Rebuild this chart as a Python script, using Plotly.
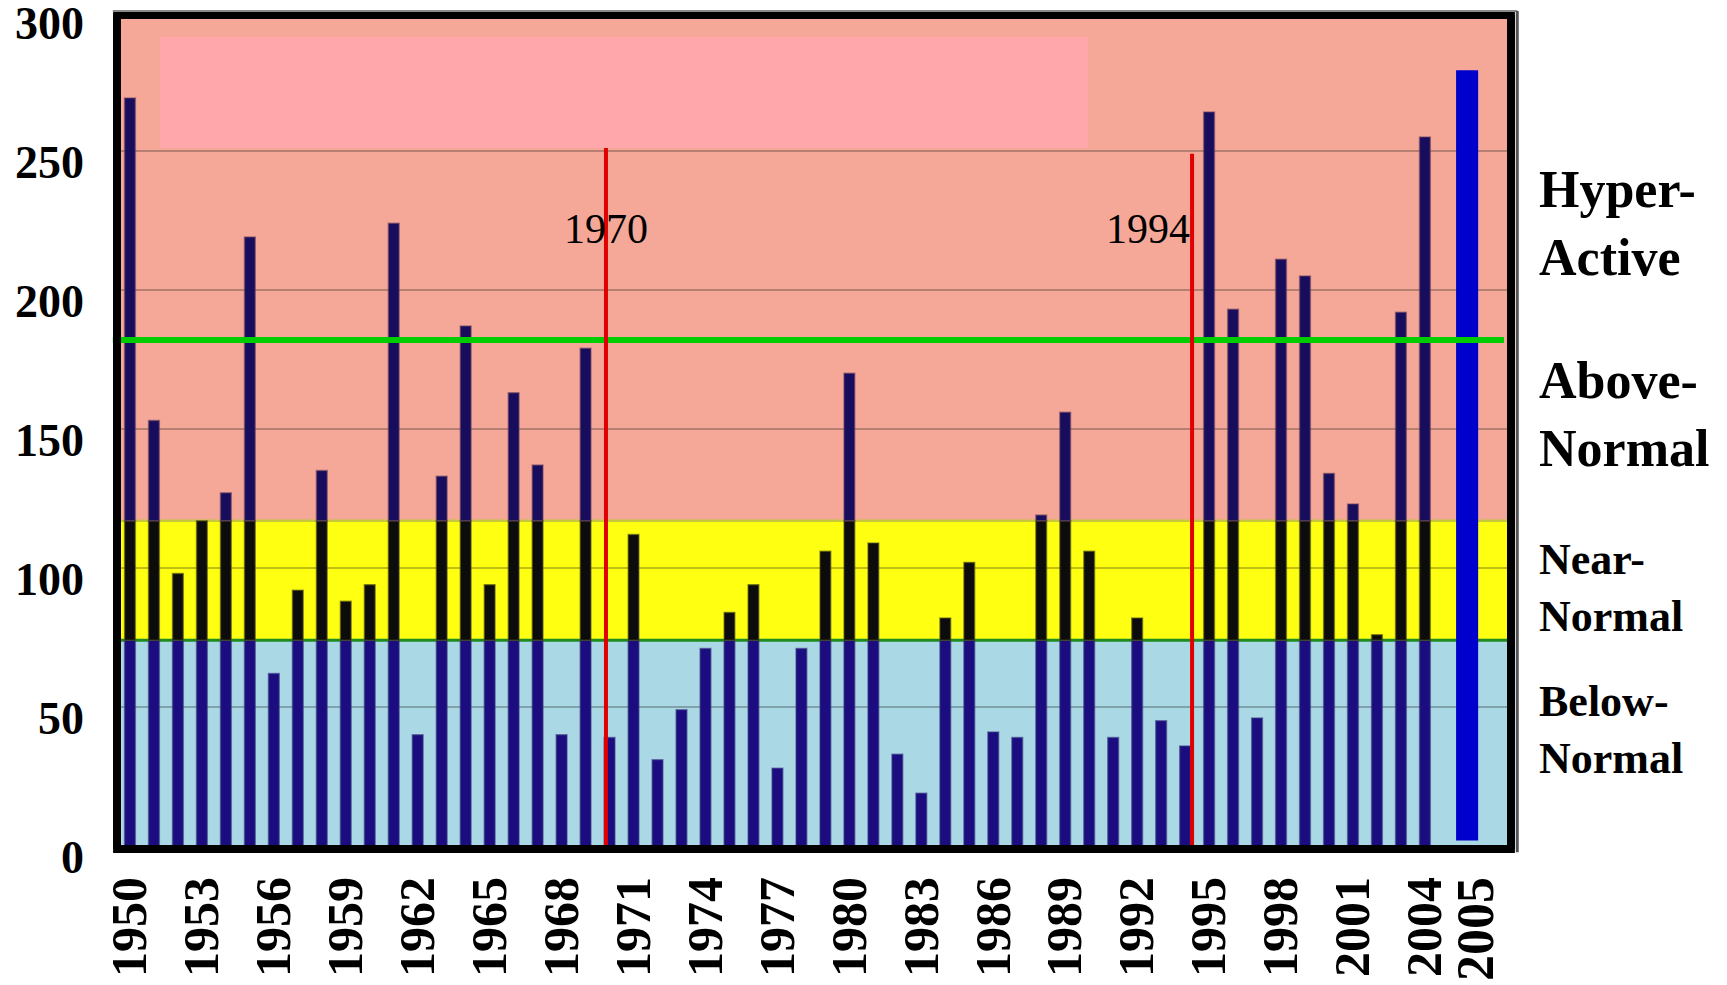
import numpy as np
import plotly.graph_objects as go

# ---------------- data ----------------
years = list(range(1950, 2005))
ace_pct = [269, 153, 98, 117, 127, 219, 62, 92, 135, 88,
           94, 224, 40, 133, 187, 94, 163, 137, 40, 179,
           39, 112, 31, 49, 71, 84, 94, 28, 71, 106,
           170, 109, 33, 19, 82, 102, 41, 39, 119, 156,
           106, 39, 82, 45, 36, 264, 193, 46, 211, 205,
           134, 123, 76, 192, 255]
year_2005 = 2005
ace_2005 = 279
base_2005 = 2

near_normal_low = 74
near_normal_high = 117
hyperactive = 182

era_years = [1970, 1994]
era_labels = ["1970", "1994"]
era_line_tops = [251, 249]

label_years = [1950, 1953, 1956, 1959, 1962, 1965, 1968, 1971, 1974, 1977,
               1980, 1983, 1986, 1989, 1992, 1995, 1998, 2001, 2004]
y_ticks = [0, 50, 100, 150, 200, 250, 300]
category_labels = ["Hyper-<br>Active", "Above-<br>Normal", "Near-<br>Normal", "Below-<br>Normal"]

# ---------------- style constants ----------------
FONT = "Liberation Serif"
BAR_W = 0.45
HL_W = 0.92
HL_SHIFT = 0.76          # 2005 bar drawn slightly right of its slot
HL_LABEL_SHIFT = 0.4
ERA_SHIFT = [-0.15, 0.29]
SALMON = "#F5A898"
YELLOW = "#FFFF12"
LIGHTBLUE = "#ABD8E5"
PINK = "#FFA7AA"

v = np.array(ace_pct, dtype=float)
seg_low = np.minimum(v, near_normal_low)
seg_mid = np.clip(v, near_normal_low, near_normal_high) - near_normal_low
seg_high = np.maximum(v, near_normal_high) - near_normal_high


def nz(a):
    return [x if x > 0 else None for x in a]


fig = go.Figure()
fig.add_bar(x=years, y=nz(seg_low), base=0, width=BAR_W,
            marker=dict(color="#1B0D80", line=dict(width=1.5, color="rgba(60,60,130,0.55)")),
            hoverinfo="skip", showlegend=False)
fig.add_bar(x=years, y=nz(seg_mid), base=near_normal_low, width=BAR_W,
            marker=dict(color="#0C0C0C", line=dict(width=1.5, color="rgba(90,90,20,0.55)")),
            hoverinfo="skip", showlegend=False)
fig.add_bar(x=years, y=nz(seg_high), base=near_normal_high, width=BAR_W,
            marker=dict(color="#170D5C", line=dict(width=1.5, color="rgba(110,70,100,0.55)")),
            hoverinfo="skip", showlegend=False)
fig.add_bar(x=[year_2005], y=[ace_2005 - base_2005], base=[base_2005], width=HL_W,
            offset=HL_SHIFT - HL_W / 2,
            marker=dict(color="#0000CC", line=dict(width=0)),
            hoverinfo="skip", showlegend=False)

shapes = []
# background bands (below grid)
shapes.append(dict(type="rect", xref="paper", x0=0, x1=1, yref="y", y0=near_normal_high, y1=320,
                   fillcolor=SALMON, line=dict(width=0), layer="below"))
shapes.append(dict(type="rect", xref="paper", x0=0, x1=1, yref="y", y0=near_normal_low, y1=near_normal_high,
                   fillcolor=YELLOW, line=dict(width=0), layer="below"))
shapes.append(dict(type="rect", xref="paper", x0=0, x1=1, yref="y", y0=-10, y1=near_normal_low,
                   fillcolor=LIGHTBLUE, line=dict(width=0), layer="below"))
shapes.append(dict(type="rect", xref="x", x0=1951.25, x1=1989.95, yref="y", y0=251, y1=291,
                   fillcolor=PINK, line=dict(width=0), layer="below"))
shapes.append(dict(type="line", xref="paper", x0=0, x1=1, yref="y", y0=near_normal_high, y1=near_normal_high,
                   line=dict(color="#C8C83C", width=2.5), layer="below"))
shapes.append(dict(type="line", xref="paper", x0=0, x1=1, yref="y", y0=near_normal_low, y1=near_normal_low,
                   line=dict(color="#1E8C1E", width=3), layer="below"))
# hyperactive threshold
shapes.append(dict(type="line", xref="paper", x0=-0.003, x1=0.995, yref="y", y0=hyperactive, y1=hyperactive,
                   line=dict(color="#00CC00", width=6), layer="above"))
# era lines
for yr, sh, top in zip(era_years, ERA_SHIFT, era_line_tops):
    shapes.append(dict(type="line", xref="x", x0=yr + sh, x1=yr + sh, yref="y", y0=0, y1=top,
                       line=dict(color="#E00000", width=4), layer="above"))
# frame (top edge sits slightly inside the 300 line, as in the original)
FR_TOP = 0.9952
for x0, x1, y0, y1 in [(0, 0, 0, FR_TOP), (1, 1, 0, FR_TOP), (-0.0028, 1.0028, 0, 0), (-0.0028, 1.0028, FR_TOP, FR_TOP)]:
    shapes.append(dict(type="line", xref="paper", yref="paper", x0=x0, x1=x1, y0=y0, y1=y1,
                       line=dict(color="black", width=8), layer="above"))
# faint grey outer edges
shapes.append(dict(type="line", xref="paper", yref="paper", x0=-0.003, x1=1.0045, y0=1.0, y1=1.0,
                   line=dict(color="#8A8A8A", width=2), layer="above"))
shapes.append(dict(type="line", xref="paper", yref="paper", x0=1.0045, x1=1.0045, y0=-0.004, y1=1.0,
                   line=dict(color="#555555", width=3), layer="above"))

annotations = []
annotations.append(dict(x=era_years[0] + ERA_SHIFT[0], y=222, xref="x", yref="y", text=era_labels[0],
                        showarrow=False, xanchor="center", yanchor="middle",
                        font=dict(family=FONT, size=42, color="black")))
annotations.append(dict(x=era_years[1] + ERA_SHIFT[1], y=222, xref="x", yref="y", text=era_labels[1],
                        showarrow=False, xanchor="right", yanchor="middle",
                        font=dict(family=FONT, size=42, color="black")))
cat_y = [0.7467, 0.5187, 0.311, 0.142]
cat_size = [52, 52, 44, 44]
for txt, yy, sz in zip(category_labels, cat_y, cat_size):
    annotations.append(dict(x=1.0187, y=yy, xref="paper", yref="paper", text=txt, showarrow=False,
                            xanchor="left", yanchor="middle", align="left",
                            font=dict(family=FONT, size=sz, color="black", weight="bold")))

tickvals = label_years + [year_2005 + HL_SHIFT + HL_LABEL_SHIFT]
ticktext = [str(y) for y in label_years] + ["<span style='font-size:52px'>%d</span>" % year_2005]

fig.update_layout(
    width=1727, height=985,
    margin=dict(l=117, r=216, t=11, b=136, autoexpand=False),
    paper_bgcolor="white", plot_bgcolor="white",
    barmode="overlay",
    shapes=shapes, annotations=annotations,
    font=dict(family=FONT, color="black"),
    xaxis=dict(range=[1949.46, 2007.59], tickvals=tickvals, ticktext=ticktext, tickangle=-90,
               showgrid=False, zeroline=False, showline=False, ticks="", automargin=False,
               tickfont=dict(family=FONT, size=50, color="black", weight="bold"),
               ticklabelstandoff=17, ticklabeloverflow="allow"),
    yaxis=dict(range=[-1.08, 300.3], tickvals=y_ticks,
               showgrid=True, gridcolor="rgba(0,0,0,0.25)", gridwidth=2,
               zeroline=False, showline=False, ticks="", automargin=False,
               tickfont=dict(family=FONT, size=46, color="black", weight="bold"),
               ticklabelstandoff=32, ticklabelshift=11, ticklabeloverflow="allow"),
)

fig.write_html("out.html", config={"displayModeBar": False},
               post_script="document.body.style.margin='0';document.body.style.overflow='hidden';")
